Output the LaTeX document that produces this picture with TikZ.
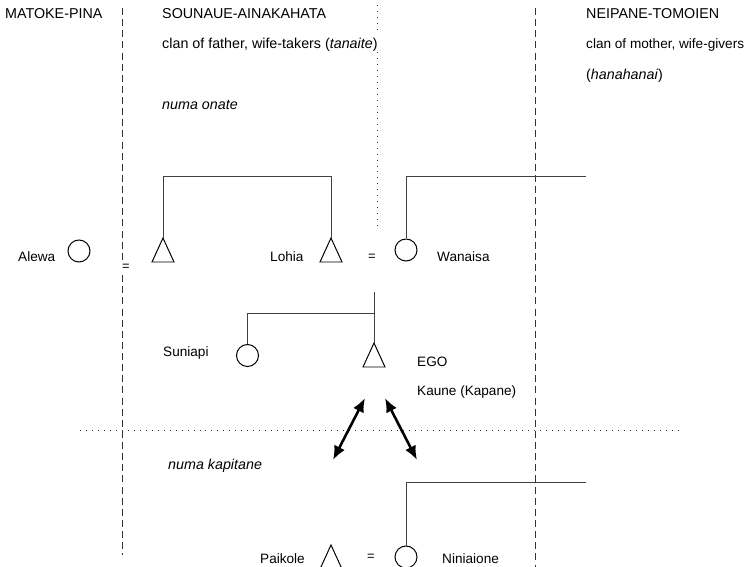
\documentclass[tikz,border=0pt]{standalone}
\usepackage{fontspec}
\setmainfont{Liberation Sans}
\usetikzlibrary{arrows.meta}

\tikzset{
	lbl/.style={anchor=base west, inner sep=0pt, font=\fontsize{11.6}{13}\selectfont},
	head/.style={lbl, font=\fontsize{12.2}{14}\selectfont},
	eq/.style={inner sep=1.5pt, fill=white, font=\fontsize{11}{13}\selectfont},
	kin/.style={draw=black!75, line width=0.7pt},
	sym/.style={draw=black, line width=0.85pt},
	fem/.style={circle, sym, inner sep=0pt, minimum size=0.66cm},
	male/.pic={
		\draw[sym, line join=miter] (0,0) -- (11,24) -- (-11,24) -- cycle;
		\coordinate (-apex) at (0,0);
	},
	clanline/.style={draw=black!80, line width=0.7pt, dash pattern=on 6pt off 3.5pt},
	dotline/.style={draw=black!80, line width=0.7pt, dash pattern=on 0.7pt off 4.4pt},
	swap/.style={line width=2.2pt, {Latex[length=12pt,width=10pt]}-{Latex[length=12pt,width=10pt]}}
}

\begin{document}
\begin{tikzpicture}[x=0.03cm, y=-0.03cm]
	
	\clip (0,0) rectangle (746,567);
	
	% clan borders
	\draw[clanline] (122,8) -- (122,555);
	\draw[clanline] (535,8) -- (535,567);
	\draw[dotline] (377,5) -- (377,30);
	\draw[dotline] (377,52) -- (377,229);
	\draw[dotline] (80,430) -- (682,430);
	
	% headings
	\node[head] (matoke) at (5,19) {MATOKE-PINA};
	\node[head] (sounaue) at (162,19) {SOUNAUE-AINAKAHATA};
	\node[head] (father) at (162,49) {clan of father, wife-takers (\textit{tanaite})};
	\node[head] (onate) at (162,110) {\textit{numa onate}};
	\node[head] (neipane) at (586,19) {NEIPANE-TOMOIEN};
	\node[lbl] (mother) at (586,49) {clan of mother, wife-givers};
	\node[head] (hana) at (586,80) {(\textit{hanahanai})};
	\node[head] (kapitane) at (168,470) {\textit{numa kapitane}};
	
	% persons
	\node[fem] (alewa) at (79,251) {};
	\pic (bro) at (163,238) {male};
	\pic (lohia) at (331,238) {male};
	\node[fem] (wanaisa) at (406,250) {};
	\node[fem] (suniapi) at (247.5,355.5) {};
	\pic (ego) at (374,343) {male};
	\pic (paikole) at (331,545) {male};
	\node[fem] (niniaione) at (406,557) {};
	
	\node[lbl] (alewa-l) at (18,262) {Alewa};
	\node[lbl] (lohia-l) at (270,262) {Lohia};
	\node[lbl] (wanaisa-l) at (437,262) {Wanaisa};
	\node[lbl] (suniapi-l) at (163,357) {Suniapi};
	\node[lbl] (ego-l) at (417,367) {EGO};
	\node[lbl] (kaune-l) at (417,396) {Kaune (Kapane)};
	\node[lbl] (paikole-l) at (260,563) {Paikole};
	\node[lbl] (niniaione-l) at (442,563) {Niniaione};
	
	\foreach \x/\y/\n in {126/267/eqa, 372/257/eqb, 371/557/eqc}
	{
		\node[eq] (\n) at (\x,\y) {=};
	}
	
	% descent lines
	\coordinate (marr) at (374,292);
	\coordinate (sib) at (374,313);
	\coordinate (wt-out) at (586,176);
	\coordinate (wg-out) at (586,482);
	\draw[kin] (bro-apex) -- ++(0,-62) -| (lohia-apex);
	\draw[kin] (wanaisa.north) |- (wt-out);
	\draw[kin] (marr) -- (ego-apex);
	\draw[kin] (suniapi.north) |- (sib);
	\draw[kin] (niniaione.north) |- (wg-out);
	
	% exchange
	\coordinate (up-l) at (365,398);
	\coordinate (dn-l) at (333,460);
	\coordinate (up-r) at (385,398);
	\coordinate (dn-r) at (417,460);
	\draw[swap] (up-l) -- (dn-l);
	\draw[swap] (up-r) -- (dn-r);

\end{tikzpicture}
\end{document}
